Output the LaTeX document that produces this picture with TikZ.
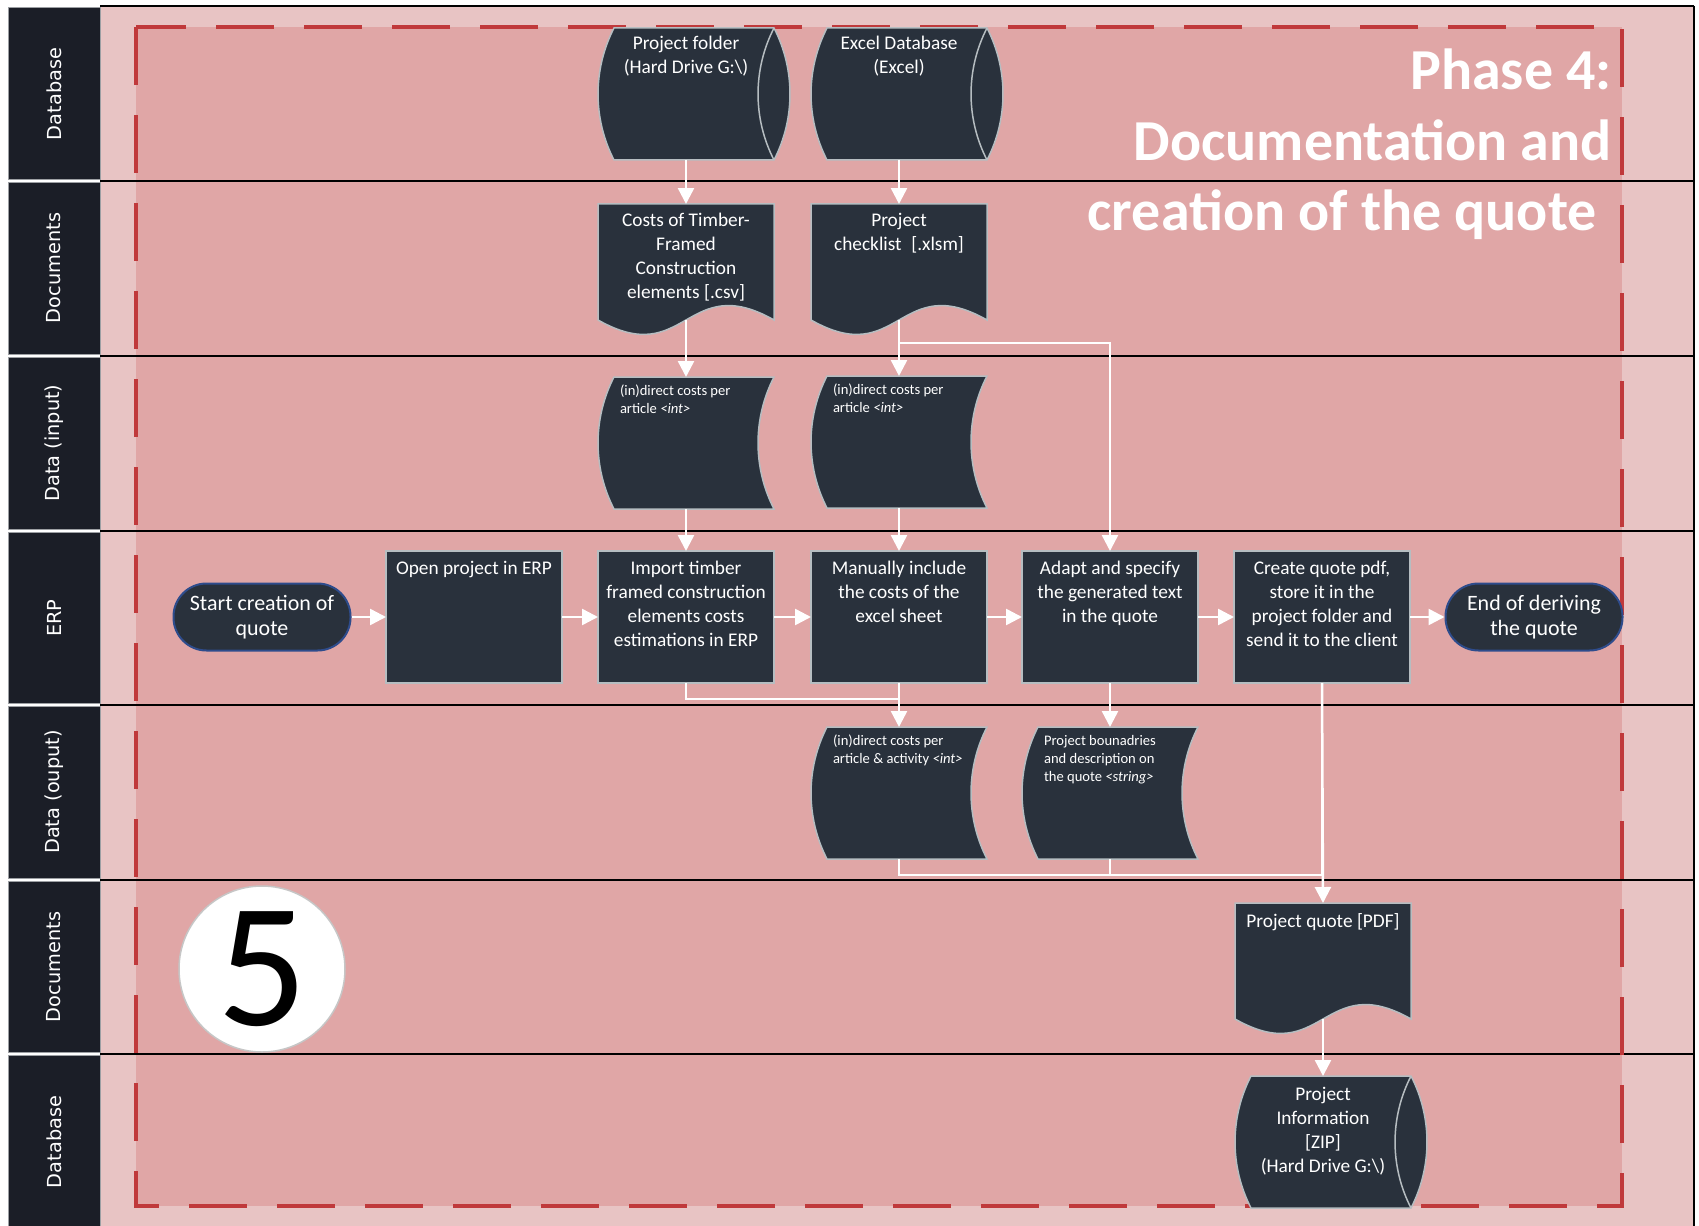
\documentclass[tikz,border=0pt]{standalone}
\usepackage{fontspec}
\setmainfont{Carlito}
\newfontfamily\lanefont{DejaVu Sans}
\usetikzlibrary{arrows.meta}

% one unit of the drawing
\newlength\px \setlength\px{0.02cm}

\definecolor{pinkout}{HTML}{E8C4C4}
\definecolor{pinkin}{HTML}{E0A6A6}
\definecolor{dashred}{HTML}{C0393B}
\definecolor{shapefill}{HTML}{29313C}
\definecolor{shapeedge}{HTML}{B6BDC1}
\definecolor{headfill}{HTML}{1B1E27}
\definecolor{headedge}{HTML}{9C9FA3}
\definecolor{termedge}{HTML}{2E4C8C}

\newcommand\boxfont{\fontsize{11pt}{13.6pt}\selectfont}
\newcommand\termfont{\fontsize{12.5pt}{14.6pt}\selectfont}
\newcommand\datafont{\fontsize{8.3pt}{10pt}\selectfont}

% text blocks: centred and top aligned / left aligned and top aligned
\newcommand\toptext[3]{\parbox[c][#1\px][t]{176\px}{\centering\vspace*{#2\px}\begin{tabular}{@{}c@{}}#3\end{tabular}\par}}
\newcommand\lefttext[2]{\parbox[c][132\px][t]{176\px}{\datafont\raggedright\vspace*{#1\px}\hspace*{22\px}\begin{tabular}{@{}l@{}}#2\end{tabular}\par}}

% database (horizontal cylinder): name, cx, cy, pad, rows
\newcommand\cylnode[5]{%
  \path[shp] (#2-72,#3-66) -- (#2+88,#3-66)
    .. controls (#2+109.3,#3-24.7) and (#2+109.3,#3+24.7) .. (#2+88,#3+66)
    -- (#2-72,#3+66)
    .. controls (#2-93.3,#3+24.7) and (#2-93.3,#3-24.7) .. (#2-72,#3-66) -- cycle;
  \draw[shpline] (#2+88,#3-66) .. controls (#2+66.7,#3-24.7) and (#2+66.7,#3+24.7) .. (#2+88,#3+66);
  \node[nom, minimum height=132\px] (#1) at (#2,#3) {\toptext{132}{#4}{#5}};}

% stored data: name, cx, cy, pad, rows
\newcommand\datanode[5]{%
  \path[shp] (#2-72,#3-66) -- (#2+88,#3-66)
    .. controls (#2+66.7,#3-24.7) and (#2+66.7,#3+24.7) .. (#2+88,#3+66)
    -- (#2-72,#3+66)
    .. controls (#2-93.3,#3+24.7) and (#2-93.3,#3-24.7) .. (#2-72,#3-66) -- cycle;
  \node[nom, minimum height=132\px] (#1) at (#2,#3) {\lefttext{#4}{#5}};}

% document with wavy bottom: name, cx, cy, pad, rows
\newcommand\docnode[5]{%
  \path[shp] (#2-88,#3-58) -- (#2+88,#3-58) -- (#2+88,#3+58)
    .. controls (#2,#3+8) and (#2,#3+108) .. (#2-88,#3+58) -- cycle;
  \node[nom, minimum height=116\px] (#1) at (#2,#3) {\toptext{116}{#4}{#5}};}

\begin{document}
\begin{tikzpicture}[x=0.02cm, y=-0.02cm,
  shp/.style={fill=shapefill, draw=shapeedge, line width=1.5\px},
  shpline/.style={draw=shapeedge, line width=1.5\px},
  nom/.style={rectangle, inner sep=0pt, outer sep=0pt, text=white, minimum width=176\px, font=\boxfont},
  proc/.style={nom, fill=shapefill, draw=shapeedge, line width=1.5\px, minimum height=132\px},
  term/.style={rectangle, rounded corners=33\px, fill=shapefill, draw=termedge, line width=2\px,
    minimum width=177\px, minimum height=67\px, inner sep=0pt, text=white, align=center, font=\termfont},
  conn/.style={draw=white, line width=2.5\px, -{Triangle[length=0.32cm,width=0.32cm]}},
  wire/.style={draw=white, line width=2.5\px},
  laneline/.style={draw=black, line width=2\px},
  headbox/.style={fill=headfill, draw=headedge, line width=1\px},
  lanelabel/.style={text=white, font=\lanefont\fontsize{11pt}{13pt}\selectfont, rotate=90, inner sep=0pt}
]
\useasboundingbox (0,0) rectangle (1699,1226);
\fill[white] (0,0) rectangle (1699,1226);

% pool and phase area
\fill[pinkout] (100,6) rectangle (1694,1226);
\fill[pinkin] (136,27) rectangle (1622,1206);
\foreach \y in {6,181,356,531,705,880,1054}
  \draw[laneline] (100,\y) -- (1694,\y);
\draw[laneline] (1694,6) -- (1694,1226);
\draw[dashred, line width=4\px, dash pattern=on 58\px off 30\px]
  (136,27) -- (136,1206) -- (1622,1206) -- (1622,27) -- cycle;

% lane headers
\foreach \t/\b in {6/181,181/356,356/531,531/705,705/880,880/1054,1054/1232}
  \draw[headbox] (8,\t+1.5) rectangle (100,\b-1.5);
\node[lanelabel] (h1) at (54,94) {Database};
\node[lanelabel] (h2) at (54,268) {Documents};
\node[lanelabel] (h3) at (54,443) {Data (input)};
\node[lanelabel] (h4) at (54,618) {ERP};
\node[lanelabel] (h5) at (54,792) {Data (ouput)};
\node[lanelabel] (h6) at (54,967) {Documents};
\node[lanelabel] (h7) at (54,1142) {Database};

% title
\node[anchor=base east, inner sep=0pt, text=white, font=\bfseries\fontsize{33pt}{40pt}\selectfont] (title) at (1612,90)
  {\begin{tabular}[t]{@{}r@{}}Phase 4:\\Documentation and\\creation of the quote\hspace*{15\px}\end{tabular}};

% database lane
\cylnode{pf}{686}{94}{5}{Project folder\\(Hard Drive G:\textbackslash)}
\cylnode{xdb}{899}{94}{5}{Excel Database\\(Excel)}

% documents lane
\docnode{costs}{686}{262}{6}{Costs of Timber-\\Framed\\Construction\\elements [.csv]}
\docnode{chk}{899}{262}{6}{Project\\checklist\enspace[.xlsm]}

% input data lane
\datanode{inA}{686}{443}{6.6}{(in)direct costs per\\article \textit{<int>}}
\datanode{inB}{899}{442}{6.6}{(in)direct costs per\\article \textit{<int>}}

% ERP lane
\node[term] (start) at (262,617) {Start creation of\\quote};
\node[proc] (open) at (474,617) {\toptext{132}{7.2}{Open project in ERP}};
\node[proc] (imp) at (686,617) {\toptext{132}{7.2}{Import timber\\framed construction\\elements costs\\estimations in ERP}};
\node[proc] (man) at (899,617) {\toptext{132}{7.2}{Manually include\\the costs of the\\excel sheet}};
\node[proc] (adapt) at (1110,617) {\toptext{132}{7.2}{Adapt and specify\\the generated text\\in the quote}};
\node[proc] (create) at (1322,617) {\toptext{132}{7.2}{Create quote pdf,\\store it in the\\project folder and\\send it to the client}};
\node[term] (end) at (1534,617) {End of deriving\\the quote};

% output data lane
\datanode{outB}{899}{793}{6.6}{(in)direct costs per\\article \& activity \textit{<int>}}
\datanode{outC}{1110}{793}{6.6}{Project bounadries\\and description on\\the quote \textit{<string>}}

% documents and database lanes at the bottom
\docnode{quote}{1323}{961}{8}{Project quote [PDF]}
\cylnode{info}{1323}{1142}{8}{Project\\Information\\{}[ZIP]\\(Hard Drive G:\textbackslash)}

% step number
\node[circle, fill=white, draw=gray!45, line width=1.5\px, minimum size=166\px, inner sep=0pt,
  font=\fontsize{101pt}{101pt}\selectfont] (five) at (262,969) {5};

% flow
\draw[conn] (pf.south) -- (costs.north);
\draw[conn] (xdb.south) -- (chk.north);
\draw[conn] (costs.south) -- (inA.north);
\draw[conn] (chk.south) -- (inB.north);
\draw[conn] (chk.south) ++(0,23) -| (adapt.north);
\draw[conn] (inA.south) -- (imp.north);
\draw[conn] (inB.south) -- (man.north);
\draw[conn] (start.east) -- (open.west);
\draw[conn] (open.east) -- (imp.west);
\draw[conn] (imp.east) -- (man.west);
\draw[conn] (man.east) -- (adapt.west);
\draw[conn] (adapt.east) -- (create.west);
\draw[conn] (create.east) -- (end.west);
\draw[wire] (imp.south) -- ++(0,16) -| (man.south);
\draw[conn] (man.south) -- (outB.north);
\draw[conn] (adapt.south) -- (outC.north);
\draw[conn] (create.south) -- (quote.north);
\draw[wire] (outB.south) -- ++(0,16) -| (create.south);
\draw[wire] (outC.south) -- ++(0,16);
\draw[conn] (quote.south) -- (info.north);
\end{tikzpicture}
\end{document}
